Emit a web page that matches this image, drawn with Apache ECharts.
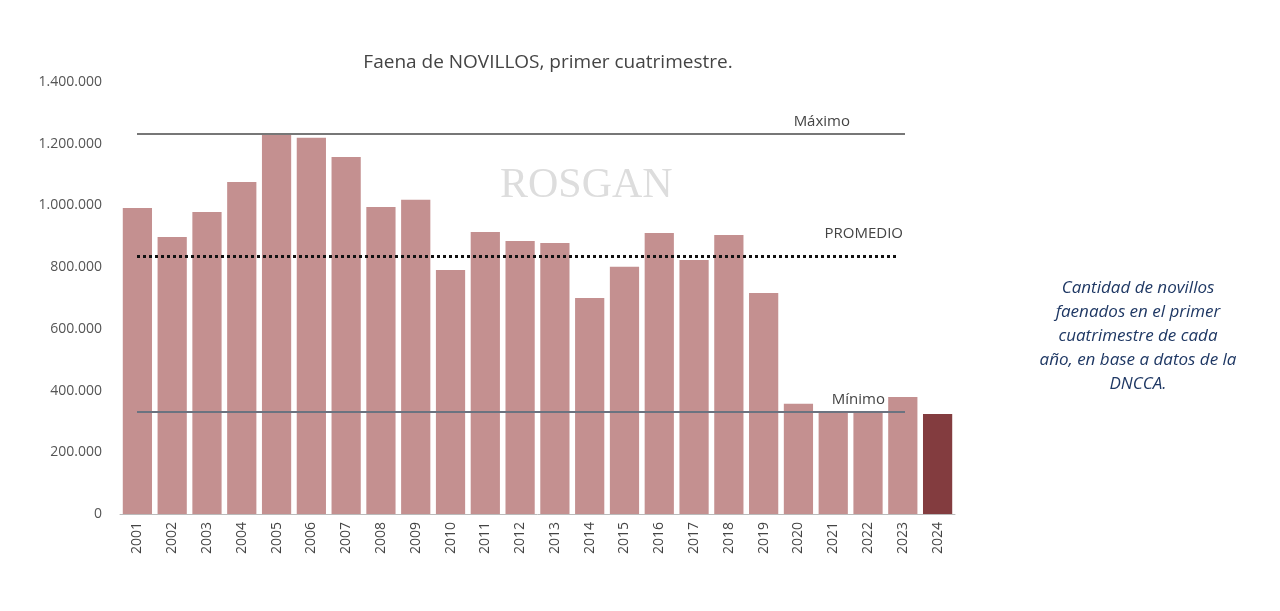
<!DOCTYPE html>
<html><head><meta charset="utf-8">
<script src="https://cdn.jsdelivr.net/npm/echarts@6/dist/echarts.min.js"></script>
<style>html,body{margin:0;padding:0;background:#fff}#c{width:1280px;height:611px}</style>
</head><body><div id="c"></div>
<script>
const years = ['2001','2002','2003','2004','2005','2006','2007','2008','2009','2010','2011','2012','2013','2014','2015','2016','2017','2018','2019','2020','2021','2022','2023','2024'];
const values = [992000,898000,979000,1076000,1232000,1219000,1157000,995000,1018000,791000,914000,885000,878000,700000,801000,911000,823000,904000,716000,357000,330000,330000,379000,324000];
const maximo = 1232000, promedio = 836000, minimo = 331000;
const fmt = v => v.toString().replace(/\B(?=(\d{3})+(?!\d))/g, '.');
const chart = echarts.init(document.getElementById('c'));
chart.setOption({
  animation:false,
  title:{text:'Faena de NOVILLOS, primer cuatrimestre.',left:543,top:48,textAlign:'center',textStyle:{fontFamily:'Open Sans',fontWeight:'normal',fontSize:19,color:'#444'}},
  grid:{left:120,right:325,top:82,bottom:97},
  xAxis:{type:'category',data:years,axisTick:{show:false},axisLine:{lineStyle:{color:'#bbb'}},
    axisLabel:{rotate:90,fontFamily:'Open Sans',fontSize:14,color:'#444',margin:8}},
  yAxis:{type:'value',min:0,max:1400000,interval:200000,splitLine:{show:false},
    axisLabel:{formatter:v=>fmt(v),fontFamily:'Open Sans',fontSize:14,color:'#555',margin:18}},
  graphic:[
    {type:'text',left:500,top:165,style:{text:'ROSGAN',font:'42px "Liberation Serif"',fill:'#ddd'}},
    {type:'text',x:1138,y:276,style:{text:'Cantidad de novillos\nfaenados en el primer\ncuatrimestre de cada\naño, en base a datos de la\nDNCCA.',font:'italic 17px "Open Sans"',fill:'#1f3864',align:'center',lineHeight:24}}
  ],
  series:[{type:'bar',data:values.map((v,i)=>({value:v,itemStyle:{color:i===values.length-1?'#833c3f':'#c49090'}})),barCategoryGap:'16%',
    markLine:{symbol:'none',silent:true,data:[
      [{coord:[0,maximo],x:137},{x:905,coord:[0,maximo],label:{show:true,position:'insideEndTop',formatter:'Máximo',color:'#444',fontSize:15,fontFamily:'Open Sans',offset:[-50,0]},lineStyle:{color:'#777',width:2,type:'solid'}}],
      [{coord:[0,promedio],x:137},{x:898,coord:[0,promedio],label:{show:true,position:'insideEndTop',formatter:'PROMEDIO',color:'#444',fontSize:15,fontFamily:'Open Sans',offset:[10,-10]},lineStyle:{color:'#111',width:3,type:'dotted'}}],
      [{coord:[0,minimo],x:137},{x:905,coord:[0,minimo],label:{show:true,position:'insideEndTop',formatter:'Mínimo',color:'#444',fontSize:15,fontFamily:'Open Sans',offset:[-15,0]},lineStyle:{color:'#6b7380',width:2,type:'solid'}}]
    ]}
  }]
});
</script></body></html>
